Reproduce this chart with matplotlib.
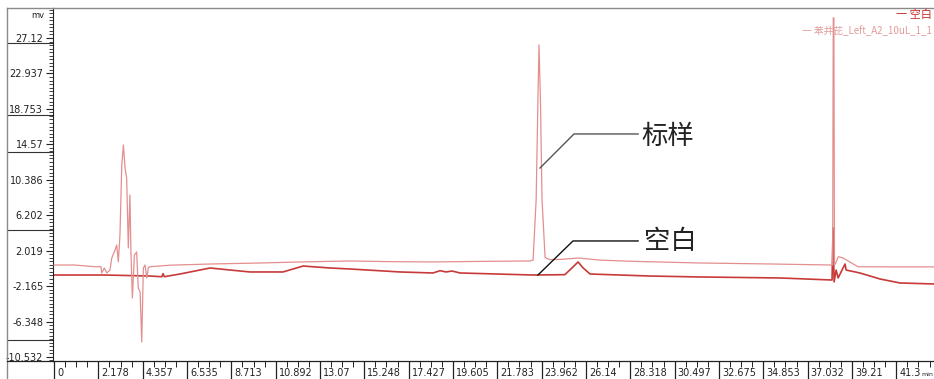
import numpy as np
import matplotlib
matplotlib.use('Agg')
import matplotlib.pyplot as plt
from matplotlib.lines import Line2D
from matplotlib.transforms import ScaledTranslation
from matplotlib.ticker import FixedLocator

plt.rcParams['font.family'] = ['DejaVu Sans', 'Noto Sans CJK SC']
CJK = ['Noto Sans CJK SC', 'DejaVu Sans']

# ---------------- data ----------------
std_label = "苯并芘_Left_A2_10uL_1_1"
blank_label = "空白"

std_time = [0, 1.0, 2.01, 2.31, 2.34, 2.47, 2.59, 2.75, 2.84, 3.00, 3.08, 3.16, 3.24,
            3.33, 3.41, 3.49, 3.57, 3.65, 3.73, 3.78, 3.85, 3.95, 4.06, 4.14, 4.23,
            4.31, 4.39, 4.47, 4.56, 4.63, 4.72, 5.70, 7.67, 10.0, 12.1, 14.5, 16.5,
            18.6, 21.0, 23.4, 23.54, 23.69, 23.78, 23.83, 23.90, 23.98, 24.13, 24.37,
            25.0, 25.75, 26.83, 28.5, 31.74, 35.0, 38.26, 38.29, 38.32, 38.35, 38.42,
            38.54, 38.77, 39.5, 41.0, 43.3]
std_mv = [0.32, 0.32, 0.12, 0.12, -0.62, -0.03, -0.62, -0.27, 1.15, 2.09, 2.68, 0.71, 3.86,
          12.13, 14.49, 11.77, 10.59, 2.33, 8.59, 1.86, -3.57, 1.50, 1.86, -2.39, -2.86,
          -8.77, -0.03, 0.32, -1.21, -0.03, 0.12, 0.30, 0.44, 0.55, 0.68, 0.80, 0.72,
          0.68, 0.75, 0.80, 0.90, 8.0, 20.0, 26.3, 20.0, 8.0, 1.2, 0.95,
          1.0, 1.15, 0.90, 0.75, 0.56, 0.45, 0.32, 29.5, 29.5, 0.30, 0.6,
          1.30, 1.15, 0.12, 0.10, 0.10]

blank_time = [0, 2.5, 4.72, 5.30, 5.36, 5.42, 6.19, 7.67, 8.65, 9.63, 11.25, 12.24, 13.56,
              14.55, 17.0, 18.62, 18.97, 19.26, 19.56, 19.95, 23.54, 25.1, 25.45, 25.75,
              26.0, 26.34, 29.29, 31.74, 35.68, 38.23, 38.28, 38.33, 38.43, 38.53, 38.72,
              38.87, 38.92, 39.6, 40.59, 41.57, 43.3]
blank_mv = [-0.86, -0.86, -0.98, -1.06, -0.70, -1.06, -0.74, -0.03, -0.27, -0.50, -0.50, 0.20,
            -0.03, -0.15, -0.50, -0.62, -0.35, -0.50, -0.39, -0.62, -0.86, -0.82, -0.03, 0.68,
            -0.03, -0.74, -0.98, -1.09, -1.21, -1.45, 4.69, -1.68, -0.27, -1.21, -0.27,
            0.44, -0.27, -0.62, -1.33, -1.80, -1.92]

ytick_vals = [27.12, 22.937, 18.753, 14.57, 10.386, 6.202, 2.019, -2.165, -6.348, -10.532]
ytick_labels = ["27.12", "22.937", "18.753", "14.57", "10.386", "6.202", "2.019",
                "-2.165", "-6.348", "-10.532"]
xtick_vals = [0, 2.178, 4.357, 6.535, 8.713, 10.892, 13.07, 15.248, 17.427, 19.605,
              21.783, 23.962, 26.14, 28.318, 30.497, 32.675, 34.853, 37.032, 39.21, 41.387]
xtick_labels = ["0", "2.178", "4.357", "6.535", "8.713", "10.892", "13.07", "15.248",
                "17.427", "19.605", "21.783", "23.962", "26.14", "28.318", "30.497",
                "32.675", "34.853", "37.032", "39.21", "41.3"]
x_unit = "min"

# ---------------- figure ----------------
W, H = 934, 379
fig = plt.figure(figsize=(W / 100, H / 100), dpi=100)
ax = fig.add_axes([53 / W, (H - 361) / H, (W - 53) / W, (361 - 8) / H])

std_color = '#e38f8f'
blank_color = '#c83a3a'
ax.plot(std_time, std_mv, color=std_color, lw=0.9, zorder=3)
ax.plot(blank_time, blank_mv, color=blank_color, lw=1.2, zorder=2)

ax.set_xlim(-0.05, 43.24)
ax.set_ylim(-11.01, 30.66)

ax.spines['right'].set_visible(False)
ax.spines['top'].set_color('#8a8a8a')
ax.spines['top'].set_linewidth(1.0)
ax.spines['left'].set_color('#222222')
ax.spines['left'].set_linewidth(0.8)
ax.spines['bottom'].set_color('#222222')
ax.spines['bottom'].set_linewidth(0.9)

# y ticks
ax.set_yticks(ytick_vals)
ax.set_yticklabels(ytick_labels, fontsize=7)
ax.yaxis.set_minor_locator(FixedLocator(np.arange(-10.532 - 0.41837 * 1, 30.6, 0.41837)))
ax.tick_params(axis='y', which='major', length=5, width=0.8, direction='out', pad=2,
               colors='#222222')
ax.tick_params(axis='y', which='minor', length=3, width=0.6, direction='out',
               colors='#222222')

# x ticks
ax.set_xticks(xtick_vals)
ax.set_xticklabels(xtick_labels, fontsize=7)
ax.xaxis.set_minor_locator(FixedLocator(np.arange(0, 43.3, 2.17825 / 4)))
ax.tick_params(axis='x', which='major', length=13, width=0.9, direction='out', pad=-8,
               colors='#222222')
ax.tick_params(axis='x', which='minor', length=4, width=0.7, direction='out',
               colors='#222222')
off = ScaledTranslation(0.03, 0, fig.dpi_scale_trans)
for lab in ax.get_xticklabels():
    lab.set_horizontalalignment('left')
    lab.set_transform(lab.get_transform() + off)
fig.text(0.999, (H - 374) / H, x_unit, fontsize=4.5, ha='right', va='center',
         color='#222222')

# unit label
fig.text(44 / W, (H - 16) / H, "mv", fontsize=6, ha='right', va='center', color='#222222')

# frame decorations (left label panel)
fig.add_artist(Line2D([7 / W, 7 / W], [0, (H - 8) / H], color='#8a8a8a', lw=1.0))
fig.add_artist(Line2D([7 / W, 53 / W], [(H - 8) / H, (H - 8) / H], color='#8a8a8a', lw=1.0))
fig.add_artist(Line2D([7 / W, 53 / W], [(H - 361) / H, (H - 361) / H], color='#222222', lw=0.9))
sep_vals = [26.53, 18.03, 13.66, 4.45, -8.53]
xa = -(53 - 7) / (W - 53)
for v in sep_vals:
    ax.plot([xa, 0], [v, v], transform=ax.get_yaxis_transform(), color='#333333',
            lw=0.8, clip_on=False)

# legend
fig.text(0.998, (H - 15) / H, "一 " + blank_label, ha='right', va='center',
         color='#c82828', fontsize=8, family=CJK)
fig.text(0.998, (H - 31) / H, "一 " + std_label, ha='right', va='center',
         color='#e39a9a', fontsize=7, family=CJK)

# annotations
ax.plot([23.88, 25.55, 28.70], [11.77, 15.79, 15.79], color='#555555', lw=1.0, zorder=4)
ax.text(28.85, 15.5, "标样", fontsize=19, family=CJK, ha='left', va='center', color='#222222')
ax.plot([23.78, 25.50, 28.70], [-0.86, 3.16, 3.16], color='#111111', lw=1.0, zorder=4)
ax.text(29.0, 3.1, "空白", fontsize=19, family=CJK, ha='left', va='center', color='#222222')

fig.savefig('out.png', dpi=100)
